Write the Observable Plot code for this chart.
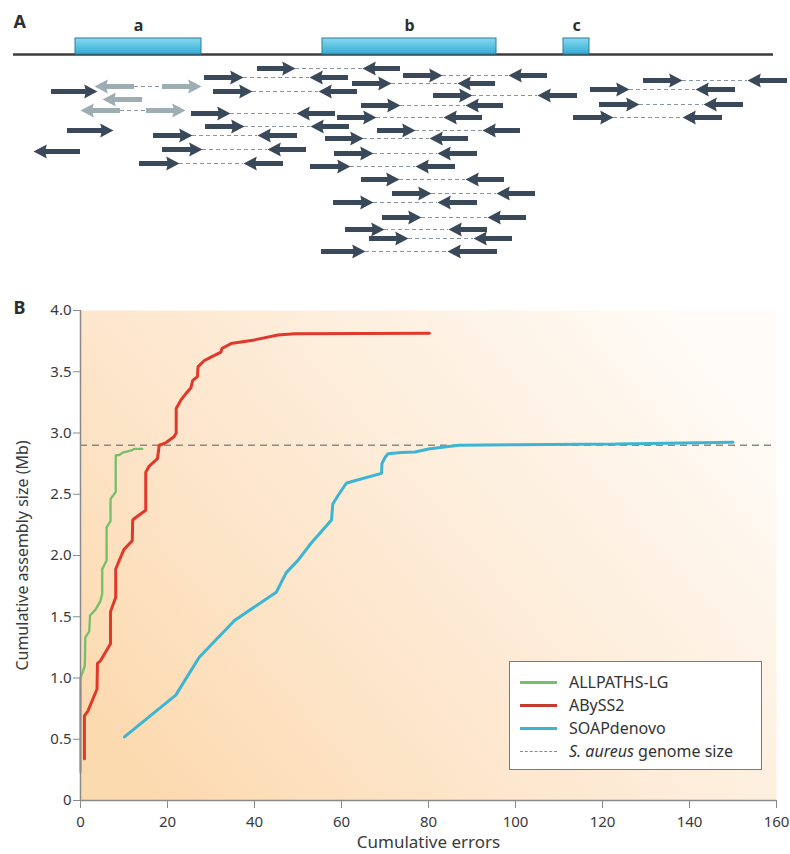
<!DOCTYPE html>
<html><head><meta charset="utf-8">
<script src="https://cdn.jsdelivr.net/npm/d3@7"></script>
<script src="https://cdn.jsdelivr.net/npm/@observablehq/plot@0.6"></script>
<style>
body{margin:0;background:#fff;font-family:"Noto Sans",sans-serif;}
#wrap{position:relative;width:790px;height:854px;overflow:hidden}
#wrap svg{display:block;overflow:visible}
.legend{position:absolute;left:509px;top:661px;width:251px;height:107px;border:1px solid #7a7a7a;background:#fff}
.row{position:absolute;left:10px;height:22px;display:flex;align-items:center;font-size:16px;color:#333;white-space:nowrap}
.swatch{width:37px;height:0;margin-right:12px;border-top-style:solid}
</style></head>
<body><div id="wrap"></div>
<script>
// ---------- Panel A data (schematic coordinates) ----------
const genome = {start: 13, end: 773, y: 54};
const boxNames = ["a", "b", "c"];
const boxStarts = [75, 322, 563];
const boxEnds = [201, 496, 589];
const boxTop = 38;
// paired reads: [forward tail, forward tip, reverse tip, reverse tail, row]
const darkPairs = [
  [257,295,362,400,68],[204,243,309,348,77],[213,252,318,357,91],[191,230,296,335,113],
  [205,244,310,349,126],[153,192,257,297,135],[162,202,267,306,149],[139,179,243,283,163],
  [352,391,457,495,83],[361,400,465,503,105],[337,376,443,482,117],[377,415,482,520,130],
  [325,363,429,468,138],[334,373,437,477,153],[310,350,415,455,166],[361,399,465,504,179],
  [392,431,496,535,193],[333,373,437,477,202],[382,421,487,526,217],[345,384,448,487,229],
  [369,408,473,512,238],[321,365,447,497,251],[403,442,508,547,75],[433,472,537,577,95],
  [643,682,747,787,80],[590,629,695,735,89],[599,639,703,743,104],[573,613,682,722,117]
];
// unpaired reads: [tail, tip, row, direction]
const darkSingles = [[51,97,91,"R"],[67,113,130,"R"],[80,33,151,"L"]];
// inverted (grey) pairs: [reverse tip, reverse tail, forward tail, forward tip, row]
const greyPairs = [[94,134,162,201,86],[80,120,146,185,110]];
const greySingles = [[142,102,99,"L"]];

// ---------- Panel B data ----------
const seriesNames = ["ALLPATHS-LG", "ABySS2", "SOAPdenovo"];
const seriesColors = ["#74bf6a", "#e0392b", "#3cb5d4"];
const seriesWidths = [2.3, 3, 3];
const allpaths = [[0,0.23],[0,1.0],[1.0,1.1],[1.1,1.33],[2.0,1.38],[2.2,1.51],[3.5,1.56],[4.6,1.63],[5.0,1.69],[5.0,1.89],[6.0,1.96],[6.0,2.23],[6.9,2.28],[6.9,2.46],[8.1,2.52],[8.1,2.82],[8.9,2.82],[9.7,2.84],[11.9,2.86],[12.3,2.87],[14.2,2.87]];
const abyss = [[0.9,0.34],[0.9,0.69],[1.7,0.73],[3.8,0.91],[3.9,1.12],[4.6,1.14],[6.9,1.28],[6.9,1.54],[8.1,1.66],[8.1,1.89],[8.8,1.95],[10.0,2.05],[11.9,2.12],[12.0,2.29],[12.7,2.31],[15.0,2.37],[15.0,2.68],[15.8,2.73],[17.7,2.79],[18.1,2.90],[19.6,2.92],[21.5,2.97],[22.0,3.0],[22.0,3.2],[23.1,3.27],[24.2,3.32],[25.4,3.37],[25.8,3.43],[26.9,3.46],[27.0,3.54],[28.4,3.59],[30,3.62],[32.3,3.66],[32.5,3.69],[34.6,3.73],[40,3.76],[45.4,3.80],[49.2,3.81],[80.2,3.815]];
const soap = [[10.1,0.52],[21.9,0.86],[27.3,1.17],[35.4,1.47],[45,1.70],[47.3,1.86],[50,1.96],[53,2.1],[57.7,2.29],[58.0,2.42],[59.2,2.49],[61.1,2.59],[63,2.61],[69.2,2.67],[69.3,2.75],[70,2.80],[70.7,2.83],[73.8,2.84],[76.9,2.845],[80,2.87],[86.9,2.90],[100,2.905],[123,2.91],[150,2.925]];
const genomeSize = 2.9;
const xTicks = [0,20,40,60,80,100,120,140,160];
const yTicks = [0,0.5,1.0,1.5,2.0,2.5,3.0,3.5,4.0];
const xLabel = "Cumulative errors";
const yLabel = "Cumulative assembly size (Mb)";

// ---------- build Panel A ----------
const DARK = "#3a4959", GREY = "#9eacb4";
const reads = [], links = [];
darkPairs.forEach(([a,b,c,d,y]) => {
  reads.push({tail:a, tip:b, y, dir:"R", col:DARK});
  reads.push({tail:d, tip:c, y, dir:"L", col:DARK});
  links.push({x1:b, x2:c, y});
});
darkSingles.forEach(([t,p,y,dir]) => reads.push({tail:t, tip:p, y, dir, col:DARK}));
greyPairs.forEach(([a,b,c,d,y]) => {
  reads.push({tail:b, tip:a, y, dir:"L", col:GREY});
  reads.push({tail:c, tip:d, y, dir:"R", col:GREY});
  links.push({x1:b, x2:c, y});
});
greySingles.forEach(([t,p,y,dir]) => reads.push({tail:t, tip:p, y, dir, col:GREY}));
const boxes = boxNames.map((n,i) => ({name:n, start:boxStarts[i], end:boxEnds[i]}));

const head = {draw(ctx, size){ const r = Math.sqrt(size/Math.PI);
  ctx.moveTo(0,0); ctx.lineTo(-1.9*r,-r); ctx.lineTo(-1.65*r,0); ctx.lineTo(-1.9*r,r); ctx.closePath(); }};

const HA = 268;
const chartA = Plot.plot({
  width: 790, height: HA, margin: 0,
  x: {domain: [0, 790], range: [0, 790], axis: null},
  y: {domain: [0, HA], range: [0, HA], axis: null},
  style: {background: "transparent", fontFamily: "Noto Sans"},
  marks: [
    Plot.ruleY([genome], {x1: "start", x2: "end", y: "y", stroke: "#3b3b3b", strokeWidth: 2.5}),
    Plot.rect(boxes, {x1: "start", x2: "end", y1: boxTop, y2: genome.y, fill: "url(#boxGrad)", stroke: "#2a7f9a", strokeWidth: 1}),
    Plot.text(boxes, {x: d => (d.start + d.end) / 2, y: boxTop, text: "name", dy: -13, fontWeight: "bold", fontSize: 16, fill: "#2e2e2e"}),
    Plot.text(["A"], {frameAnchor: "top-left", dx: 13, dy: 15, text: d => d, fontWeight: "bold", fontSize: 18, fill: "#2e2e2e"}),
    Plot.ruleY(links, {x1: "x1", x2: "x2", y: "y", stroke: "#8d959c", strokeWidth: 1.2, strokeDasharray: "4,3"}),
    Plot.ruleY(reads, {x1: "tail", x2: d => d.dir === "R" ? d.tip - 9 : d.tip + 9, y: "y", stroke: d => d.col, strokeWidth: 5}),
    Plot.dot(reads, {x: "tip", y: "y", symbol: head, r: 7, fill: d => d.col, stroke: "none", rotate: d => d.dir === "R" ? 0 : 180})
  ]
});

// ---------- build Panel B ----------
const rows = [];
[allpaths, abyss, soap].forEach((pts, i) => pts.forEach(([x, y]) => rows.push({series: seriesNames[i], x, y})));

const HB = 854 - HA;
const chartB = Plot.plot({
  width: 790, height: HB, marginTop: 310 - HA, marginLeft: 80, marginRight: 14, marginBottom: HB - (800 - HA),
  style: {background: "transparent", fontFamily: "Noto Sans", fontSize: "15px", color: "#3a3a3a"},
  x: {domain: [0, 160]},
  y: {domain: [0, 4]},
  marks: [
    Plot.frame({fill: "url(#bgGrad)", stroke: "none"}),
    Plot.ruleY([genomeSize], {stroke: "#8a8a8a", strokeWidth: 1.3, strokeDasharray: "7,5"}),
    ...seriesNames.map((s, i) => Plot.line(rows.filter(r => r.series === s), {x: "x", y: "y", stroke: seriesColors[i], strokeWidth: seriesWidths[i], strokeLinejoin: "miter"})),
    Plot.axisX({ticks: xTicks, tickSize: 8, tickPadding: 8, stroke: "#8a8a8a", fill: "#3a3a3a", fontSize: 15, label: null}),
    Plot.axisY({ticks: yTicks, tickSize: 7, tickPadding: 2, stroke: "#8a8a8a", fill: "#3a3a3a", fontSize: 15, tickFormat: d => d === 0 ? "0" : d.toFixed(1), label: null}),
    Plot.ruleX([0], {stroke: "#8a8a8a", strokeWidth: 1.5}),
    Plot.ruleY([0], {stroke: "#8a8a8a", strokeWidth: 1.5}),
    Plot.text([xLabel], {frameAnchor: "bottom", dy: 42, text: d => d, fontSize: 17, fill: "#3a3a3a", lineAnchor: "middle", textAnchor: "middle"}),
    Plot.text([yLabel], {frameAnchor: "left", dx: -58, rotate: -90, text: d => d, fontSize: 16, fill: "#3a3a3a", lineAnchor: "middle", textAnchor: "middle"}),
    Plot.text(["B"], {frameAnchor: "top-left", dx: -67, dy: -9, text: d => d, fontWeight: "bold", fontSize: 18, fill: "#2e2e2e"})
  ]
});

const wrap = document.getElementById("wrap");
wrap.appendChild(chartA);
wrap.appendChild(chartB);

// gradients
function addDefs(svg, html) {
  const defs = document.createElementNS("http://www.w3.org/2000/svg", "defs");
  defs.innerHTML = html;
  svg.insertBefore(defs, svg.firstChild);
}
addDefs(chartA, `<linearGradient id="boxGrad" x1="0" y1="0" x2="0" y2="1">
  <stop offset="0" stop-color="#8ad8ee"/><stop offset="0.5" stop-color="#5cc4e3"/><stop offset="1" stop-color="#37abd1"/></linearGradient>`);
addDefs(chartB, `<linearGradient id="bgGrad" x1="0" y1="0.8" x2="1" y2="0.2">
  <stop offset="0" stop-color="#fcdab0"/><stop offset="0.35" stop-color="#fde6cc"/><stop offset="0.75" stop-color="#fef3e6"/><stop offset="1" stop-color="#fffcf8"/></linearGradient>`);

// legend
const legend = document.createElement("div");
legend.className = "legend";
const entries = [
  {label: seriesNames[0], color: seriesColors[0], w: 3, dash: "solid"},
  {label: seriesNames[1], color: "#c63b2f", w: 3, dash: "solid"},
  {label: seriesNames[2], color: seriesColors[2], w: 3, dash: "solid"},
  {label: "<i>S. aureus</i> genome size", color: "#8a8a8a", w: 1, dash: "dashed"}
];
const tops = [9, 32, 55, 78];
entries.forEach((e, i) => {
  const r = document.createElement("div");
  r.className = "row";
  r.style.top = tops[i] + "px";
  r.innerHTML = `<span class="swatch" style="border-top-color:${e.color};border-top-width:${e.w}px;border-top-style:${e.dash}"></span><span>${e.label}</span>`;
  legend.appendChild(r);
});
wrap.appendChild(legend);
</script></body></html>
